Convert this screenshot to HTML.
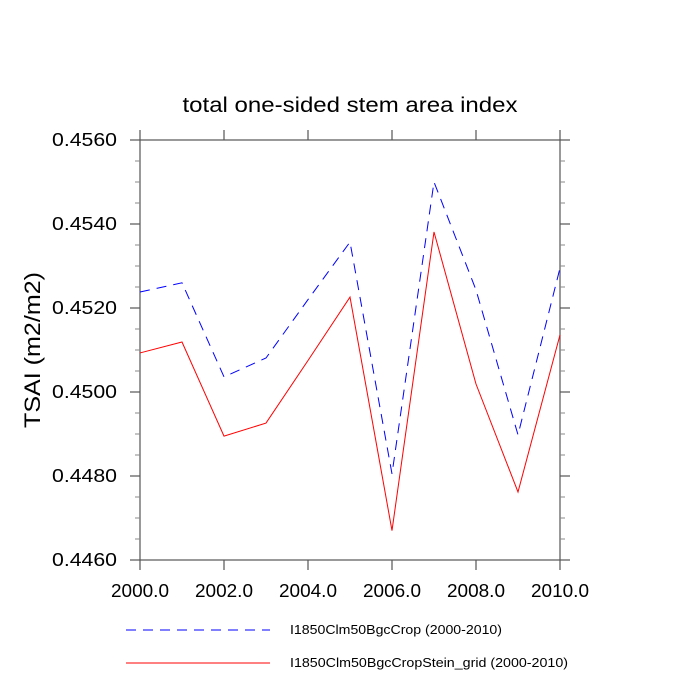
<!DOCTYPE html>
<html><head><meta charset="utf-8"><style>body{margin:0;background:#fff}svg{display:block}text{font-family:"Liberation Sans",sans-serif;fill:#000}</style></head>
<body>
<svg id="chart" width="700" height="700">
<text x="350" y="112" font-size="21" text-anchor="middle" textLength="335" lengthAdjust="spacingAndGlyphs">total one-sided stem area index</text>
<text transform="translate(40,350) rotate(-90)" font-size="22" text-anchor="middle" textLength="156" lengthAdjust="spacingAndGlyphs">TSAI  (m2/m2)</text>
<g id="axes"></g><g id="series"></g>
<g>
<line x1="126" y1="630" x2="270" y2="630" stroke="#00f" stroke-dasharray="10,7"/>
<text x="290" y="634" font-size="13" textLength="212" lengthAdjust="spacingAndGlyphs">I1850Clm50BgcCrop (2000-2010)</text>
<line x1="126" y1="663" x2="270" y2="663" stroke="#f00"/>
<text x="290" y="667" font-size="13" textLength="278" lengthAdjust="spacingAndGlyphs">I1850Clm50BgcCropStein_grid (2000-2010)</text>
</g>
</svg>
<script>
const years=[2000,2001,2002,2003,2004,2005,2006,2007,2008,2009,2010];
const cropValues=[0.45238,0.45260,0.45036,0.45081,0.45220,0.45357,0.44805,0.45500,0.45243,0.44898,0.45295];
const steinValues=[0.45093,0.45119,0.44895,0.44926,0.45075,0.45226,0.44670,0.45381,0.45019,0.44762,0.45136];
const xTicks=[2000,2002,2004,2006,2008,2010];
const yTicks=[0.4460,0.4480,0.4500,0.4520,0.4540,0.4560];
const L=140,R=560,T=140,B=560;
const x=v=>L+(v-2000)/10*(R-L);
const y=v=>B-(v-0.446)/0.010*(B-T);
const NS='http://www.w3.org/2000/svg';
function mk(tag,attrs,parent){const e=document.createElementNS(NS,tag);for(const k in attrs)e.setAttribute(k,attrs[k]);parent.appendChild(e);return e;}
const ax=document.getElementById('axes');
const frame=mk('rect',{x:L,y:T,width:R-L,height:B-T,fill:'none',stroke:'#555','stroke-width':1.2},ax);


xTicks.forEach(t=>{
  mk('line',{x1:x(t),x2:x(t),y1:B,y2:B+10,stroke:'#555','stroke-width':1.2},ax);
  mk('line',{x1:x(t),x2:x(t),y1:T,y2:T-10,stroke:'#555','stroke-width':1.2},ax);
  const tx=mk('text',{x:x(t),y:B+37,'font-size':18,'text-anchor':'middle',textLength:58,lengthAdjust:'spacingAndGlyphs'},ax);
  tx.textContent=t.toFixed(1);
  
  
});
yTicks.forEach((t,i)=>{
  mk('line',{x1:L-10,x2:L,y1:y(t),y2:y(t),stroke:'#555','stroke-width':1.2},ax);
  mk('line',{x1:R,x2:R+10,y1:y(t),y2:y(t),stroke:'#555','stroke-width':1.2},ax);
  if(i<yTicks.length-1){for(let k=1;k<4;k++){const v=t+k*0.0005;
    mk('line',{x1:L-5,x2:L,y1:y(v),y2:y(v),stroke:'#888'},ax);
    mk('line',{x1:R,x2:R+5,y1:y(v),y2:y(v),stroke:'#888'},ax);}}
  const tx=mk('text',{x:L-23,y:y(t)+6,'font-size':18,'text-anchor':'end',textLength:65,lengthAdjust:'spacingAndGlyphs'},ax);
  tx.textContent=t.toFixed(4);
  
  
});
const sg=document.getElementById('series');
const p1=mk('polyline',{points:years.map((yr,i)=>x(yr)+','+y(cropValues[i])).join(' '),fill:'none',stroke:'#00f','stroke-dasharray':'10,7'},sg);


const p2=mk('polyline',{points:years.map((yr,i)=>x(yr)+','+y(steinValues[i])).join(' '),fill:'none',stroke:'#f00'},sg);


</script>
</body></html>
